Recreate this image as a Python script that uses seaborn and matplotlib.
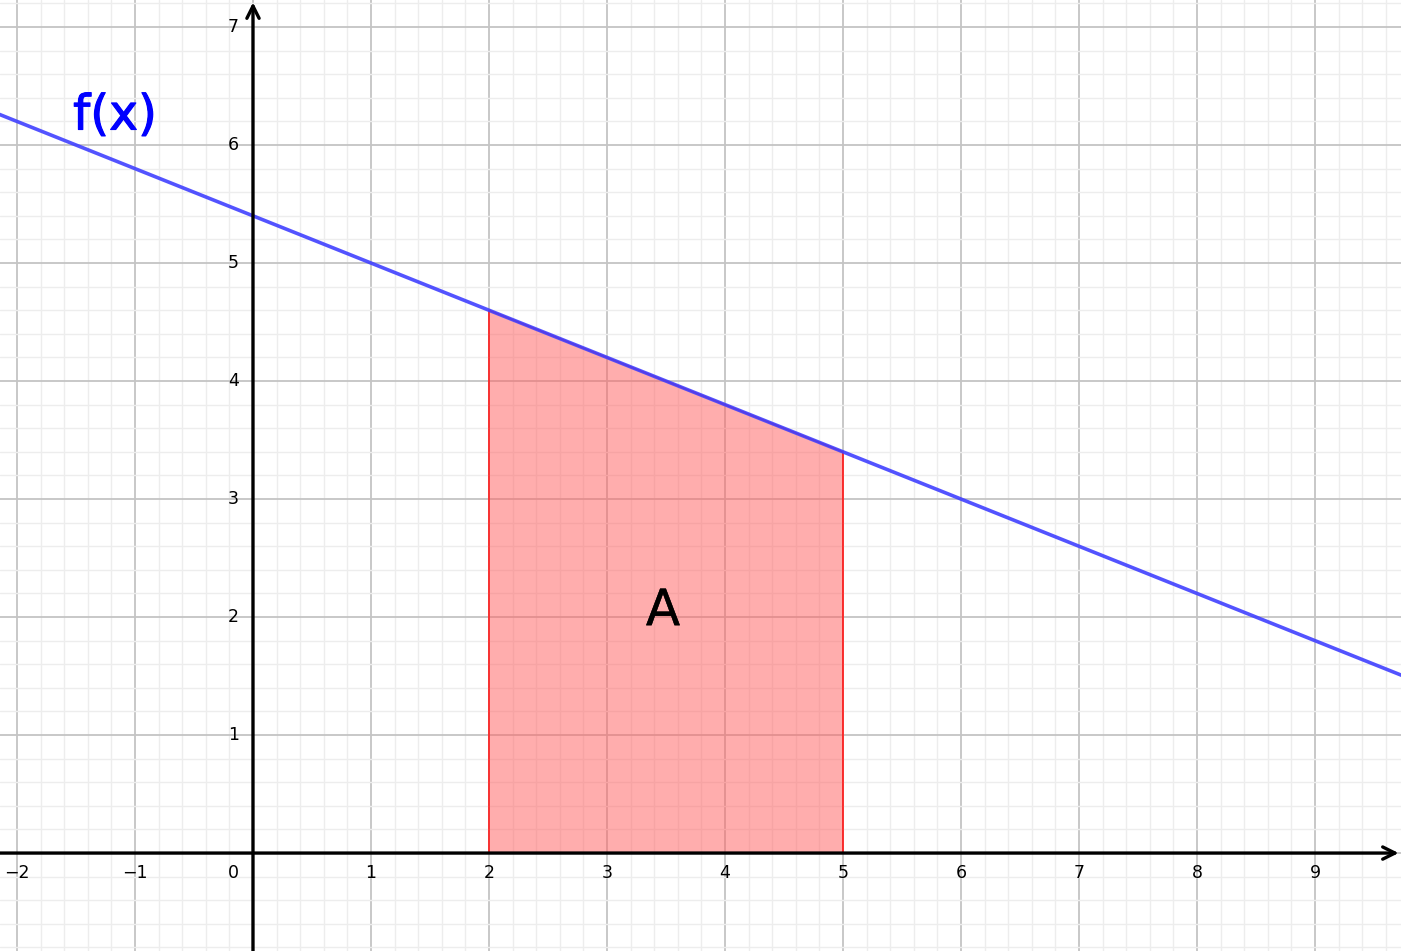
import numpy as np
import pandas as pd
import matplotlib
matplotlib.use('Agg')
import matplotlib.pyplot as plt
import matplotlib.patheffects as pe
from matplotlib.ticker import MultipleLocator
import seaborn as sns

sns.set_theme(style='white')
plt.rcParams['font.family'] = ['DejaVu Sans']

# data
line_x = [-2.2, 9.8]
line_y = [6.28, 1.48]
area_x = [2, 5]
area_y = [4.6, 3.4]
x_ticks = [-2, -1, 1, 2, 3, 4, 5, 6, 7, 8, 9]
y_ticks = [1, 2, 3, 4, 5, 6, 7]
xlim = (-2.144, 9.729)
ylim = (-0.83, 7.229)

fig = plt.figure(figsize=(14.01, 9.51), dpi=100)
ax = fig.add_axes([0, 0, 1, 1])
ax.set_xlim(*xlim); ax.set_ylim(*ylim)
for s in ax.spines.values():
    s.set_visible(False)

# grid
ax.xaxis.set_major_locator(MultipleLocator(1)); ax.yaxis.set_major_locator(MultipleLocator(1))
ax.xaxis.set_minor_locator(MultipleLocator(0.2)); ax.yaxis.set_minor_locator(MultipleLocator(0.2))
ax.grid(which='minor', color='#ededed', linewidth=1.0, zorder=0)
ax.grid(which='major', color='#c4c4c4', linewidth=1.3, zorder=0)
ax.tick_params(which='both', length=0, labelbottom=False, labelleft=False)
ax.set_axisbelow(True)

# shaded area
ax.fill_between(area_x, [0, 0], area_y, color='#ff5c5c', alpha=0.5, linewidth=0, zorder=2)
ax.plot([area_x[0], area_x[0], area_x[1], area_x[1]], [0, area_y[0], area_y[1], 0],
        color='#ff1a1a', linewidth=1.2, zorder=3)

# f(x)
df = pd.DataFrame({'x': line_x, 'y': line_y})
sns.lineplot(data=df, x='x', y='y', ax=ax, color='#4040ff', alpha=0.9, linewidth=2.6, zorder=4)
ax.set_xlabel(''); ax.set_ylabel('')

# axes with arrows
ax.annotate('', xy=(xlim[1] - 0.02, 0), xytext=(xlim[0], 0),
            arrowprops=dict(arrowstyle='->', color='black', lw=2.4, mutation_scale=22, shrinkA=0, shrinkB=0), zorder=5)
ax.annotate('', xy=(0, ylim[1] - 0.02), xytext=(0, ylim[0]),
            arrowprops=dict(arrowstyle='->', color='black', lw=2.4, mutation_scale=22, shrinkA=0, shrinkB=0), zorder=5)

# tick labels
for t in x_ticks:
    lab = f'{t}'.replace('-', '\u2212')
    ax.annotate(lab, (t, 0), xytext=(0, -14), textcoords='offset points',
                ha='center', va='center', fontsize=12.5, color='black')
ax.annotate('0', (0, 0), xytext=(-14, -14), textcoords='offset points',
            ha='center', va='center', fontsize=12.5, color='black')
for t in y_ticks:
    ax.annotate(f'{t}', (0, t), xytext=(-10, 0), textcoords='offset points',
                ha='right', va='center', fontsize=12.5, color='black')

ax.text(-1.17, 6.25, 'f(x)', color='#0000ff', fontsize=35, ha='center', va='center',
        path_effects=[pe.withStroke(linewidth=0.8, foreground='#0000ff')])
ax.text(3.475, 2.05, 'A', color='black', fontsize=36, ha='center', va='center',
        path_effects=[pe.withStroke(linewidth=0.3, foreground='black')])

plt.savefig('out.png', dpi=100)
